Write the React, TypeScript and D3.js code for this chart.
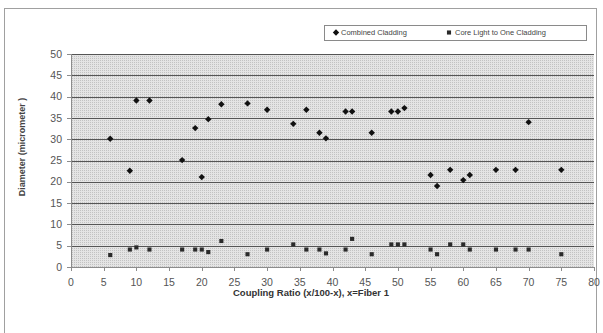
import React from "react";
import * as d3 from "d3";

const ratios = [6, 9, 10, 12, 17, 19, 20, 21, 23, 27, 30, 34, 36, 38, 39, 42, 43, 46, 49, 50, 51, 55, 56, 58, 60, 61, 65, 68, 70, 75];
const combinedCladding = [30.1, 22.6, 39.1, 39.1, 25.1, 32.6, 21.1, 34.7, 38.2, 38.4, 36.9, 33.6, 36.9, 31.5, 30.2, 36.5, 36.5, 31.5, 36.5, 36.5, 37.3, 21.6, 19.0, 22.8, 20.4, 21.6, 22.8, 22.8, 34.0, 22.8];
const coreLight = [2.8, 4.1, 4.6, 4.1, 4.1, 4.1, 4.1, 3.5, 6.1, 3.0, 4.1, 5.3, 4.1, 4.1, 3.2, 4.1, 6.6, 3.0, 5.3, 5.3, 5.3, 4.1, 3.0, 5.3, 5.3, 4.1, 4.1, 4.1, 4.1, 3.0];
const xTicks = [0, 5, 10, 15, 20, 25, 30, 35, 40, 45, 50, 55, 60, 65, 70, 75, 80];
const yTicks = [0, 5, 10, 15, 20, 25, 30, 35, 40, 45, 50];
const seriesNames = ["Combined Cladding", "Core Light to One Cladding"];
const xTitle = "Coupling Ratio (x/100-x), x=Fiber 1";
const yTitle = "Diameter (micrometer )";

const W = 603;
const H = 333;
const L = 71, R = 594, T = 54, B = 267;
const font = "Arial, 'Liberation Sans', sans-serif";

export default function App() {
  const x = d3.scaleLinear().domain([0, 80]).range([L, R]);
  const y = d3.scaleLinear().domain([0, 50]).range([B, T]);
  const diamond = d3.symbol().type(d3.symbolDiamond2).size(26)()!;
  const square = d3.symbol().type(d3.symbolSquare).size(17)()!;

  return (
    <svg width={W} height={H} style={{ position: "absolute", left: 0, top: 0, background: "#fff" }}>
      <defs>
        <pattern id="dots" width="2" height="2" patternUnits="userSpaceOnUse">
          <rect width="2" height="2" fill="#e4e4e4" />
          <rect width="1" height="1" fill="#c2c2c2" />
        </pattern>
      </defs>
      <rect x={4.5} y={8.5} width={592} height={340} fill="#fff" stroke="#a0a0a0" strokeWidth={1} />
      <rect x={L} y={T} width={R - L} height={B - T} fill="url(#dots)" />
      {yTicks.filter((t) => t > 0).map((t) => (
        <line key={"g" + t} x1={L} x2={R} y1={Math.round(y(t)) + 0.5} y2={Math.round(y(t)) + 0.5} stroke="#555" strokeWidth={1} />
      ))}
      <line x1={L + 0.5} x2={L + 0.5} y1={T} y2={B} stroke="#8c8c8c" />
      <line x1={L} x2={R} y1={B + 0.5} y2={B + 0.5} stroke="#8c8c8c" />
      {yTicks.map((t) => (
        <g key={"y" + t}>
          <line x1={L - 4} x2={L} y1={Math.round(y(t)) + 0.5} y2={Math.round(y(t)) + 0.5} stroke="#8c8c8c" />
          <text x={L - 9} y={y(t)} dy="0.35em" textAnchor="end" fontSize={10.5} fontFamily={font} fill="#555">{t}</text>
        </g>
      ))}
      {xTicks.map((t) => (
        <g key={"x" + t}>
          <line x1={Math.round(x(t)) + 0.5} x2={Math.round(x(t)) + 0.5} y1={B} y2={B + 4} stroke="#8c8c8c" />
          <text x={x(t)} y={282} dy="0.35em" textAnchor="middle" fontSize={10.5} fontFamily={font} fill="#555">{t}</text>
        </g>
      ))}
      <text x={311} y={293} dy="0.35em" textAnchor="middle" fontSize={9.5} fontWeight="bold" fontFamily={font} fill="#333">{xTitle}</text>
      <text transform={`translate(22,147) rotate(-90)`} dy="0.35em" textAnchor="middle" fontSize={9} fontWeight="bold" fontFamily={font} fill="#444">{yTitle}</text>
      {ratios.map((r, i) => (
        <path key={"c" + i} d={diamond} transform={`translate(${x(r)},${y(combinedCladding[i])})`} fill="#111" />
      ))}
      {ratios.map((r, i) => (
        <path key={"k" + i} d={square} transform={`translate(${x(r)},${y(coreLight[i])})`} fill="#2a2a2a" />
      ))}
      <rect x={324.5} y={25.5} width={262} height={15} fill="#fff" stroke="#8a8a8a" />
      <path d={diamond} transform="translate(336,32.5)" fill="#111" />
      <text x={341} y={32.5} dy="0.35em" fontSize={7.5} fontFamily={font} fill="#444">{seriesNames[0]}</text>
      <path d={square} transform="translate(449,32.5)" fill="#2a2a2a" />
      <text x={455} y={32.5} dy="0.35em" fontSize={7.5} fontFamily={font} fill="#444">{seriesNames[1]}</text>
    </svg>
  );
}
